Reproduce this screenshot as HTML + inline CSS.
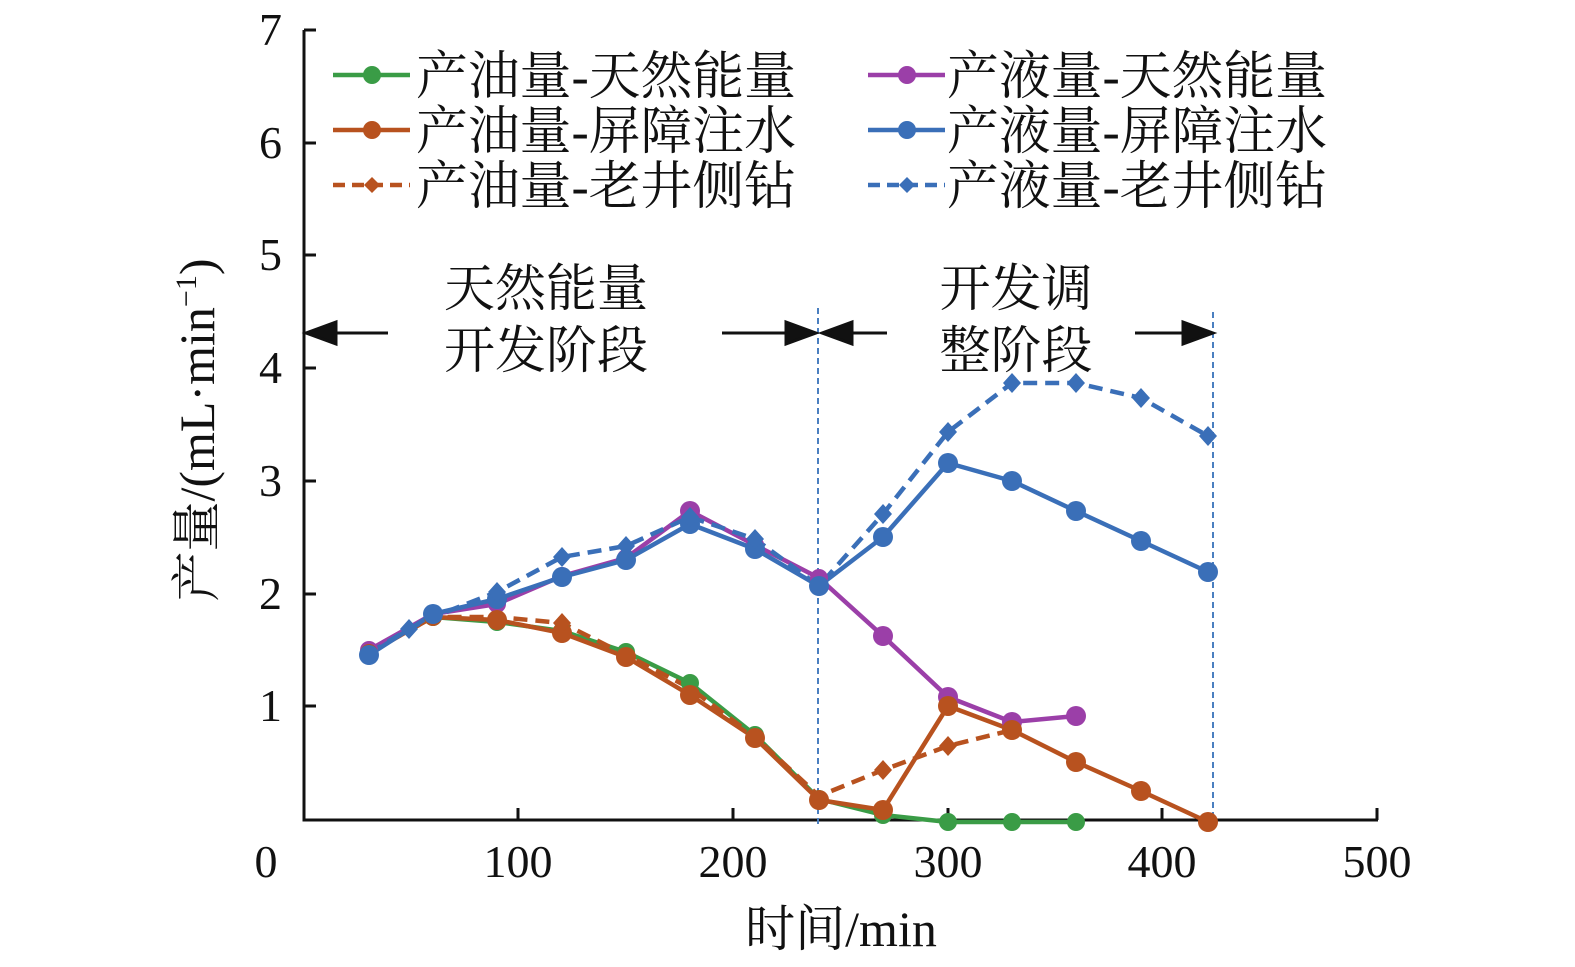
<!DOCTYPE html>
<html><head><meta charset="utf-8"><style>
body{margin:0;background:#fff;}
svg{display:block;font-family:"Liberation Serif","Noto Serif CJK SC",serif;}
</style></head><body>
<svg width="1575" height="967" viewBox="0 0 1575 967" xmlns="http://www.w3.org/2000/svg">
<!-- axes -->
<g stroke="#111" stroke-width="3" fill="none">
<path d="M304,30 V820 H1378"/>
<path d="M304,30 h12 M304,143 h12 M304,255 h12 M304,368 h12 M304,481 h12 M304,594 h12 M304,706 h12"/>
<path d="M518,820 v-12 M733,820 v-12 M948,820 v-12 M1162,820 v-12 M1377,820 v-12"/>
</g>
<g font-size="46" fill="#111" text-anchor="end">
<text x="282" y="45">7</text><text x="282" y="158">6</text><text x="282" y="270">5</text>
<text x="282" y="383">4</text><text x="282" y="496">3</text><text x="282" y="609">2</text><text x="282" y="721">1</text>
</g>
<g font-size="46" fill="#111" text-anchor="middle">
<text x="266" y="877">0</text><text x="518" y="877">100</text><text x="733" y="877">200</text>
<text x="948" y="877">300</text><text x="1162" y="877">400</text><text x="1377" y="877">500</text>
<text x="841" y="946" font-size="50">时间/min</text>
</g>
<text transform="translate(214,430) rotate(-90)" font-size="50" fill="#111" text-anchor="middle">产量/(mL·min<tspan font-size="30" dy="-18">−1</tspan><tspan dy="18">)</tspan></text>
<!-- stage dividers -->
<g stroke="#4a7fc0" stroke-width="2" stroke-dasharray="6,4">
<path d="M818,308 V825 M1213,312 V825"/>
</g>
<g stroke="#111" stroke-width="3" fill="#111">
<path d="M388,333 H316" fill="none"/><path d="M306,333 l30,-11 v22z"/>
<path d="M722,333 H806" fill="none"/><path d="M816,333 l-30,-11 v22z"/>
<path d="M887,333 H832" fill="none"/><path d="M822,333 l30,-11 v22z"/>
<path d="M1135,333 H1203" fill="none"/><path d="M1213,333 l-30,-11 v22z"/>
</g>
<g font-size="51" fill="#111" text-anchor="middle">
<text x="546" y="306">天然能量</text><text x="546" y="368">开发阶段</text>
<text x="1016" y="306">开发调</text><text x="1016" y="368">整阶段</text>
</g>
<!-- series -->
<g fill="none" stroke-width="4.5" stroke-linejoin="round">
<polyline stroke="#3a9c46" points="369,652 433,617 497,622 562,631 626,652 690,683 755,735 819,799 883,815 948,822 1012,822 1076,822"/>
<polyline stroke="#b8521f" points="369,653 433,617 497,620 562,633 626,657 690,695 755,738 819,800 883,810 948,706 1012,730 1076,762 1141,791 1208,822"/>
<polyline stroke="#b8521f" stroke-dasharray="14,8" points="369,653 433,617 497,617 562,623 626,655 690,688 755,737 819,796 883,770 948,746 1012,730"/>
<polyline stroke="#9b3fa8" points="369,650 433,614 497,604 562,576 626,558 690,511 755,545 819,578 883,636 948,697 1012,722 1076,716"/>
<polyline stroke="#3a6fb8" points="369,655 433,614 497,599 562,577 626,560 690,524 755,549 819,586 883,537 948,463 1012,481 1076,511 1141,541 1208,572"/>
<polyline stroke="#3a6fb8" stroke-dasharray="14,8" points="369,653 409,629 433,617 497,592 562,557 626,546 690,517 755,539 819,586 883,514 948,432 1012,383 1076,383 1141,398 1208,436"/>
</g>
<g fill="#3a9c46">
<circle cx="369" cy="652" r="9"/><circle cx="433" cy="617" r="9"/><circle cx="497" cy="622" r="9"/><circle cx="562" cy="631" r="9"/><circle cx="626" cy="652" r="9"/><circle cx="690" cy="683" r="9"/><circle cx="755" cy="735" r="9"/><circle cx="819" cy="799" r="9"/><circle cx="883" cy="815" r="9"/><circle cx="948" cy="822" r="9"/><circle cx="1012" cy="822" r="9"/><circle cx="1076" cy="822" r="9"/>
</g>
<g fill="#9b3fa8">
<circle cx="369" cy="650" r="9"/><circle cx="433" cy="614" r="9"/><circle cx="497" cy="604" r="9"/><circle cx="562" cy="576" r="9"/><circle cx="626" cy="558" r="9"/><circle cx="690" cy="511" r="10"/><circle cx="755" cy="545" r="9"/><circle cx="819" cy="578" r="9"/><circle cx="883" cy="636" r="10"/><circle cx="948" cy="697" r="10"/><circle cx="1012" cy="722" r="10"/><circle cx="1076" cy="716" r="10"/>
</g>
<g fill="#b8521f">
<circle cx="369" cy="653" r="9"/><circle cx="433" cy="617" r="9"/><circle cx="497" cy="620" r="10"/><circle cx="562" cy="633" r="10"/><circle cx="626" cy="657" r="10"/><circle cx="690" cy="695" r="10"/><circle cx="755" cy="738" r="10"/><circle cx="819" cy="800" r="10"/><circle cx="883" cy="810" r="10"/><circle cx="948" cy="706" r="10"/><circle cx="1012" cy="730" r="10"/><circle cx="1076" cy="762" r="10"/><circle cx="1141" cy="791" r="10"/><circle cx="1208" cy="822" r="10"/>
<path d="M562,613 l9,10 -9,10 -9,-10z M883,760 l9,10 -9,10 -9,-10z M948,736 l9,10 -9,10 -9,-10z"/>
</g>
<g fill="#3a6fb8">
<circle cx="369" cy="655" r="10"/><circle cx="433" cy="614" r="10"/><circle cx="497" cy="599" r="10"/><circle cx="562" cy="577" r="10"/><circle cx="626" cy="560" r="10"/><circle cx="690" cy="524" r="10"/><circle cx="755" cy="549" r="10"/><circle cx="819" cy="586" r="10"/><circle cx="883" cy="537" r="10"/><circle cx="948" cy="463" r="10"/><circle cx="1012" cy="481" r="10"/><circle cx="1076" cy="511" r="10"/><circle cx="1141" cy="541" r="10"/><circle cx="1208" cy="572" r="10"/>
<path d="M409,619 l9,10 -9,10 -9,-10z M497,582 l9,10 -9,10 -9,-10z M562,547 l9,10 -9,10 -9,-10z M626,536 l9,10 -9,10 -9,-10z M690,507 l9,10 -9,10 -9,-10z M755,529 l9,10 -9,10 -9,-10z M883,504 l9,10 -9,10 -9,-10z M948,422 l9,10 -9,10 -9,-10z M1012,373 l9,10 -9,10 -9,-10z M1076,373 l9,10 -9,10 -9,-10z M1141,388 l9,10 -9,10 -9,-10z M1208,426 l9,10 -9,10 -9,-10z"/>
</g>
<!-- legend -->
<g stroke-width="4.5">
<path d="M333,75 H410" stroke="#3a9c46"/><circle cx="372" cy="75" r="9" fill="#3a9c46"/>
<path d="M333,130 H410" stroke="#b8521f"/><circle cx="372" cy="130" r="9" fill="#b8521f"/>
<path d="M333,185 H410" stroke="#b8521f" stroke-dasharray="12,7"/><path d="M372,177 l8,8 -8,8 -8,-8z" fill="#b8521f"/>
<path d="M868,75 H945" stroke="#9b3fa8"/><circle cx="907" cy="75" r="9" fill="#9b3fa8"/>
<path d="M868,130 H945" stroke="#3a6fb8"/><circle cx="907" cy="130" r="9" fill="#3a6fb8"/>
<path d="M868,185 H945" stroke="#3a6fb8" stroke-dasharray="12,7"/><path d="M907,177 l8,8 -8,8 -8,-8z" fill="#3a6fb8"/>
</g>
<g font-size="52" fill="#111">
<text x="416" y="94" textLength="380" lengthAdjust="spacingAndGlyphs">产油量-天然能量</text>
<text x="416" y="149" textLength="380" lengthAdjust="spacingAndGlyphs">产油量-屏障注水</text>
<text x="416" y="204" textLength="380" lengthAdjust="spacingAndGlyphs">产油量-老井侧钻</text>
<text x="947" y="94" textLength="380" lengthAdjust="spacingAndGlyphs">产液量-天然能量</text>
<text x="947" y="149" textLength="380" lengthAdjust="spacingAndGlyphs">产液量-屏障注水</text>
<text x="947" y="204" textLength="380" lengthAdjust="spacingAndGlyphs">产液量-老井侧钻</text>
</g>
</svg>
</body></html>
